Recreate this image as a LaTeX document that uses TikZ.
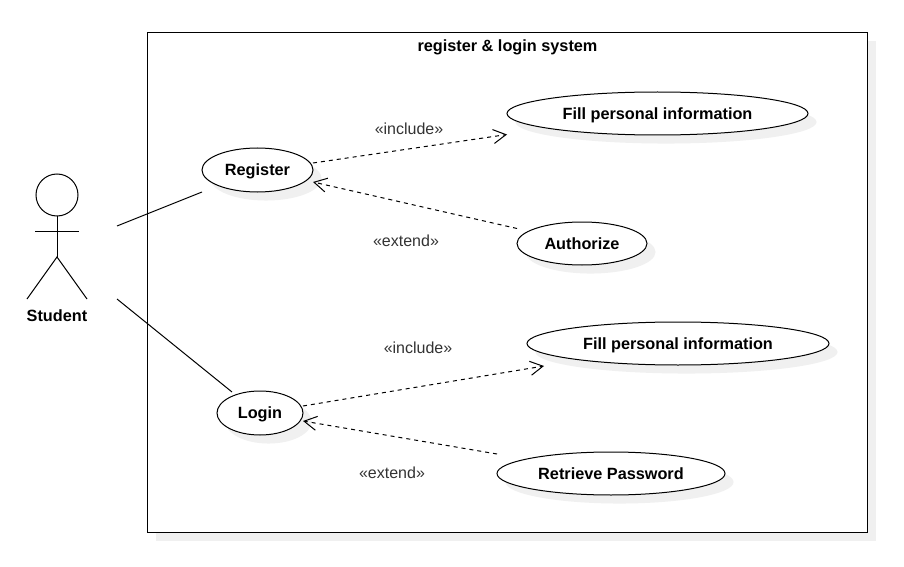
\documentclass[tikz,border=0pt]{standalone}
\usepackage{fontspec}
\setmainfont{Liberation Sans}
\usetikzlibrary{arrows.meta,shapes.geometric,shadows}
\definecolor{shadowgray}{HTML}{F0F0F0}
\definecolor{stereogray}{HTML}{333333}
\newcommand{\labelsize}{\fontsize{12pt}{14pt}\selectfont}
\newcommand{\namesize}{\fontsize{12.2pt}{14pt}\selectfont\bfseries}
\tikzset{
  softshadow/.style={drop shadow={shadow xshift=6.4pt,shadow yshift=-6.4pt,fill=shadowgray,opacity=1}},
  usecase/.style={draw,ellipse,fill=white,line width=.75pt,inner sep=0pt,outer sep=0pt,softshadow,font=\namesize,text height=8.8pt,text depth=0pt},
  assoc/.style={line width=.75pt},
  dep/.style={line width=.75pt,dash pattern=on 3pt off 3pt,-{Straight Barb[length=9.5pt,width=10.5pt,line width=.75pt]}},
  stereo/.style={text=stereogray},
  title/.style={font=\namesize}
}
\begin{document}
\begin{tikzpicture}[x=.75pt,y=-.75pt,font=\labelsize]
\useasboundingbox (0,0) rectangle (904,567);
\node[draw,fill=white,line width=.75pt,minimum width=540pt,minimum height=375pt,inner sep=0pt,outer sep=0pt,softshadow] (system) at (507.5,282.5) {};
\node[title] (systemname) at (507.5,47.5) {register \& login system};
% actor
\node[draw,circle,line width=.75pt,minimum size=31.5pt,inner sep=0pt,outer sep=0pt] (head) at (57,195) {};
\coordinate (hip) at (57,257);
\draw[assoc] (head.south)--(hip);
\draw[assoc] (35,231.5)--(79,231.5);
\draw[assoc] (27,299)--(hip)--(87,299);
\node[title] (student) at (57,315.5) {Student};
\coordinate (studenttop) at (117,226);
\coordinate (studentlow) at (117,299);
% use cases
\node[usecase,minimum width=83.25pt,minimum height=33pt] (register) at (257.5,170) {Register};
\node[usecase,minimum width=225.75pt,minimum height=32.25pt] (fillreg) at (657.5,113.5) {Fill personal information};
\node[usecase,minimum width=97.5pt,minimum height=32.25pt] (authorize) at (582,243.5) {Authorize};
\node[usecase,minimum width=64.5pt,minimum height=33pt] (login) at (260,413) {Login};
\node[usecase,minimum width=226.5pt,minimum height=32.25pt] (filllog) at (678,343.5) {Fill personal information};
\node[usecase,minimum width=171pt,minimum height=32.25pt] (retrieve) at (611,473.5) {Retrieve Password};
% connectors
\draw[assoc] (studenttop)--(register.west|-register.south);
\draw[assoc] (studentlow)--([shift={(-28,-43)}]login.south);
\draw[dep] ([shift={(0,-7)}]register.east)--([shift={(0,21)}]fillreg.west);
\draw[dep] ([shift={(0,-15)}]authorize.west)--([shift={(0,12)}]register.east);
\draw[dep] ([shift={(0,-7)}]login.east)--([shift={(17,22.5)}]filllog.west);
\draw[dep] ([shift={(0,-19.5)}]retrieve.west)--([shift={(0,8)}]login.east);
% labels
\node[stereo] (incone) at (409,129) {«include»};
\node[stereo] (extone) at (406,241) {«extend»};
\node[stereo] (inctwo) at (418,348) {«include»};
\node[stereo] (exttwo) at (392,473) {«extend»};
\end{tikzpicture}
\end{document}
